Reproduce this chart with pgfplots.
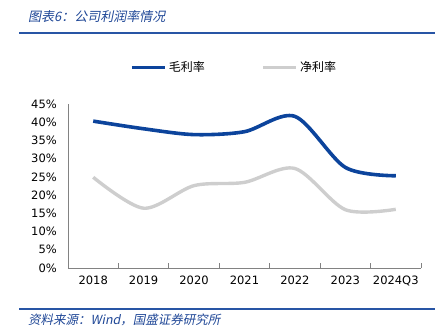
\documentclass[border=0pt]{standalone}
\usepackage{fontspec}
\usepackage{pgfplots}
\pgfplotsset{compat=1.18}
\setmainfont{DejaVu Sans}
\newfontfamily\cjk{Noto Sans CJK SC}
\newfontfamily\cjkit[FakeSlant=0.2]{Noto Sans CJK SC}
\definecolor{mblue}{RGB}{12,68,156}
\definecolor{mgray}{RGB}{206,206,206}
\definecolor{tblue}{RGB}{30,70,150}
\definecolor{rulec}{RGB}{40,85,165}
\definecolor{axc}{RGB}{130,130,130}
\begin{document}
\begin{tikzpicture}[x=1pt,y=1pt]
\path[use as bounding box] (0,0) rectangle (447,336);
\node[anchor=base west, text=tblue, font=\cjkit\fontsize{13}{15}\selectfont, inner sep=0] at (28,314) {图表6：公司利润率情况};
\draw[rulec, line width=1.5] (19,303) -- (435,303);
\draw[rulec, line width=1.5] (19,27) -- (435,27);
\node[anchor=base west, text=tblue, font=\cjkit\fontsize{12.5}{14}\selectfont, inner sep=0] at (28,11) {资料来源：Wind，国盛证券研究所};
\begin{axis}[
  at={(93.2pt,68pt)}, anchor=origin,
  scale only axis, width=353pt, height=164pt,
  xmin=-0.5, xmax=6.5, ymin=0, ymax=45,
  axis lines*=left,
  axis line style={axc, line width=0.8pt},
  xtick={-0.5,0.5,...,6.5},
  x tick label as interval,
  xticklabels={2018,2019,2020,2021,2022,2023,2024Q3},
  xtick align=inside,
  major tick length=5pt,
  x tick style={axc, line width=0.8pt},
  ytick={0,5,...,45},
  y tick style={draw=none},
  /pgf/number format/assume math mode=true,
  yticklabel={\pgfmathprintnumber{\tick}\%},
  yticklabel style={anchor=east, inner sep=0pt, xshift=-11pt},
  xticklabel style={anchor=north, inner sep=0pt, yshift=-8pt},
  tick label style={font=\fontsize{11.5}{13}\selectfont},
  legend style={at={(0.1756,1.2226)}, anchor=west, draw=none, fill=none,
    legend columns=2, inner sep=0pt, font=\cjk\fontsize{12}{14}\selectfont,
    /tikz/every even column/.append style={column sep=55pt}},
  legend image code/.code={\draw[#1] (0pt,0pt) -- (33pt,0pt);},
]
\addplot[mblue, line width=3.6pt, smooth] coordinates {
 (0,40.3) (1,38.2) (2,36.6) (3,37.4) (4,41.6) (5,27.6) (6,25.3)};
\addlegendentry{毛利率}
\addplot[mgray, line width=3.4pt, smooth] coordinates {
 (0,24.9) (1,16.4) (2,22.6) (3,23.5) (4,27.3) (5,16.0) (6,16.1)};
\addlegendentry{净利率}
\end{axis}
\end{tikzpicture}
\end{document}
